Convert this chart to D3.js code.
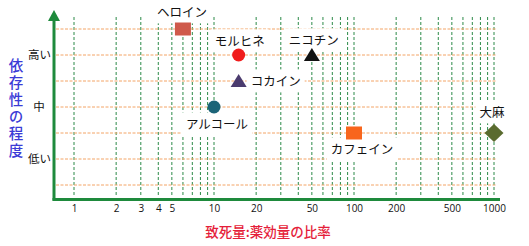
<!DOCTYPE html>
<html><head><meta charset="utf-8">
<script src="https://cdn.jsdelivr.net/npm/d3@7"></script>
<style>
body{margin:0;background:#fff;}
text{font-family:"Noto Sans CJK JP","Noto Sans",sans-serif;}
</style></head>
<body><svg id="c" width="529" height="246"></svg>
<script>
const xTicks = [1,2,3,4,5,10,20,50,100,200,500,1000];
const xGrid = [1,2,3,4,5,6,7,8,9,10,20,30,40,50,60,70,80,90,100,200,300,400,500,600,700,800,900,1000];
const yGrid = [1,2,3,4,5,6,7];
const yLabels = ["低い","中","高い"];
const yLabelValues = [2,4,6];
const drugs = ["ヘロイン","モルヒネ","ニコチン","コカイン","アルコール","カフェイン","大麻"];
const ratio = [6,15,50,15,10,100,1000];
const dependence = [7,6,6,5,4,3,3];
const shapes = ["square","circle","triangle","triangle","circle","square","diamond"];
const colors = ["#cf5a4b","#f01c1c","#111111","#4b3b6e","#1c6478","#f8651c","#5a6b2f"];
const xTitle = "致死量:薬効量の比率";
const yTitle = "依存性の程度";

const svg = d3.select("#c");
const x = d3.scaleLog().domain([1,1000]).range([74,494]);
const y = d3.scaleLinear().domain([1,7]).range([185,29]);
const axisX0 = 54, axisY0 = 199.5;

// grid
svg.append("g").selectAll("line").data(xGrid).join("line")
  .attr("x1",d=>x(d)).attr("x2",d=>x(d)).attr("y1",17).attr("y2",197)
  .attr("stroke","#2c8a48").attr("stroke-width",1).attr("stroke-dasharray","3,2");
svg.append("g").selectAll("line").data(yGrid).join("line")
  .attr("x1",56).attr("x2",497).attr("y1",d=>y(d)).attr("y2",d=>y(d))
  .attr("stroke","#f3a466").attr("stroke-width",1).attr("stroke-dasharray","3,1.5");

// axes
const green = "#1e8a3c";
svg.append("line").attr("x1",axisX0).attr("x2",axisX0).attr("y1",axisY0+1).attr("y2",18)
  .attr("stroke",green).attr("stroke-width",3);
svg.append("path").attr("d",`M${axisX0},10 L${axisX0-6},21 L${axisX0+6},21 Z`).attr("fill",green);
svg.append("line").attr("x1",axisX0-1.5).attr("x2",500).attr("y1",axisY0).attr("y2",axisY0)
  .attr("stroke",green).attr("stroke-width",3);

// x ticks
const ax = d3.axisBottom(x).tickValues(xTicks).tickFormat(d3.format("d")).tickSize(0).tickPadding(0);
const gx = svg.append("g").attr("transform",`translate(0,205)`).call(ax);
gx.select(".domain").remove();
gx.selectAll("text").attr("font-size",10).attr("fill","#111").attr("dy","0.71em")
  .style("font-family","'Open Sans','Noto Sans',sans-serif");

// y labels
svg.append("g").selectAll("text").data(yLabels).join("text")
  .attr("x",(d,i)=>d.length>1?51:39).attr("y",(d,i)=>y(yLabelValues[i]))
  .attr("text-anchor",(d)=>d.length>1?"end":"middle").attr("dy","0.35em")
  .attr("font-size",11.5).attr("fill","#111").text(d=>d);

// titles
svg.append("text").attr("x",268).attr("y",237).attr("text-anchor","middle")
  .attr("font-size",13.5).attr("font-weight",500).attr("fill","#e51e3a").text(xTitle);
svg.append("text").attr("x",16).attr("y",58)
  .style("writing-mode","vertical-rl").style("letter-spacing","2.5px")
  .attr("font-size",14.5).attr("font-weight",500).attr("fill","#3b3bd6").text(yTitle);

// labels
const labelPos = [
  {dx:-1,dy:-16,anchor:"middle"},
  {dx:1,dy:-13,anchor:"middle"},
  {dx:2,dy:-14,anchor:"middle"},
  {dx:12,dy:1,anchor:"start"},
  {dx:3,dy:18,anchor:"middle"},
  {dx:8,dy:17,anchor:"middle"},
  {dx:-2,dy:-20,anchor:"middle"}
];
const lg = svg.append("g");
drugs.forEach((d,i)=>{
  const p = labelPos[i];
  const g = lg.append("g");
  const t = g.append("text").attr("x",x(ratio[i])+p.dx).attr("y",y(dependence[i])+p.dy)
    .attr("text-anchor",p.anchor).attr("dy","0.35em").attr("font-size",12.5).attr("fill","#111").text(d);
  const bb = t.node().getBBox();
  g.insert("rect","text").attr("x",bb.x-4).attr("y",bb.y-2).attr("width",bb.width+8).attr("height",bb.height+4).attr("fill","#fff");
});

// markers
const mg = svg.append("g");
drugs.forEach((d,i)=>{
  const cx = x(ratio[i]), cy = y(dependence[i]);
  const s = shapes[i];
  if(s==="square") mg.append("rect").attr("x",cx-8).attr("y",cy-6.5).attr("width",16).attr("height",13).attr("fill",colors[i]);
  else if(s==="circle") mg.append("circle").attr("cx",cx).attr("cy",cy).attr("r",6.5).attr("fill",colors[i]);
  else if(s==="triangle") mg.append("path").attr("d",`M${cx},${cy-7} L${cx+8},${cy+6} L${cx-8},${cy+6} Z`).attr("fill",colors[i]);
  else mg.append("path").attr("d",`M${cx},${cy-9} L${cx+9.5},${cy} L${cx},${cy+9} L${cx-9.5},${cy} Z`).attr("fill",colors[i]);
});
</script></body></html>
